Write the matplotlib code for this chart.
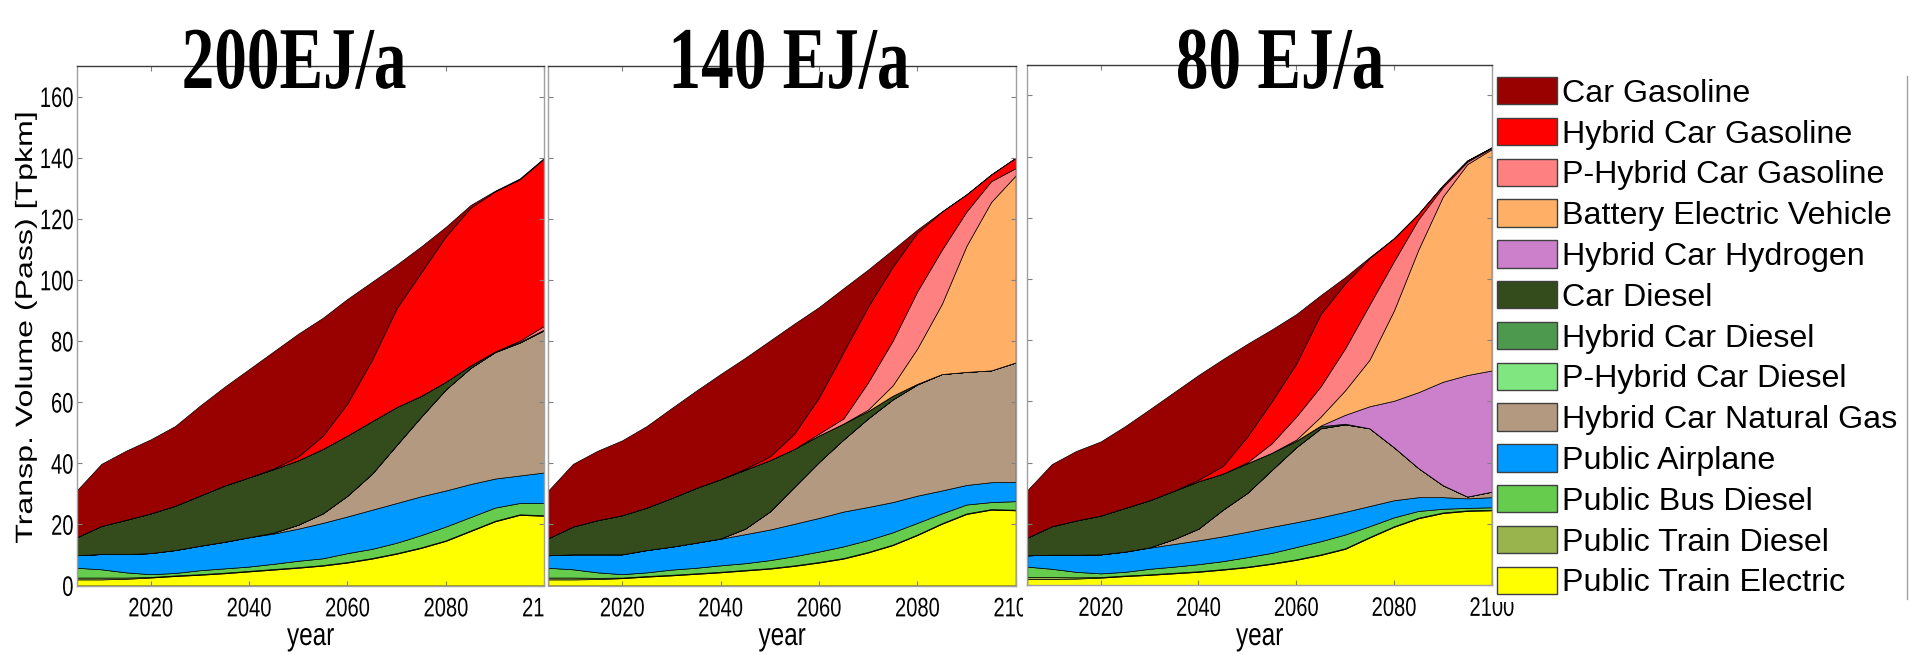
import matplotlib
matplotlib.use("Agg")
import matplotlib.pyplot as plt
from matplotlib.patches import Patch, Rectangle
from matplotlib.lines import Line2D
from matplotlib.patheffects import AbstractPathEffect
from matplotlib.transforms import Affine2D

plt.rcParams['font.family'] = ['Liberation Sans', 'DejaVu Sans']

# ---------------------------------------------------------------- data
years = [2005, 2010, 2015, 2020, 2025, 2030, 2035, 2040, 2045, 2050,
         2055, 2060, 2065, 2070, 2075, 2080, 2085, 2090, 2095, 2100]

scenario_titles = ['200EJ/a', '140 EJ/a', '80 EJ/a']

# legend order (top of the stack first)
series_names = ['Car Gasoline', 'Hybrid Car Gasoline', 'P-Hybrid Car Gasoline',
                'Battery Electric Vehicle', 'Hybrid Car Hydrogen', 'Car Diesel',
                'Hybrid Car Diesel', 'P-Hybrid Car Diesel', 'Hybrid Car Natural Gas',
                'Public Airplane', 'Public Bus Diesel', 'Public Train Diesel',
                'Public Train Electric']
series_colors = ['#990000', '#ff0000', '#ff8080', '#ffb066', '#cc80cc', '#344b1c',
                 '#4d994d', '#80e680', '#b39980', '#0099ff', '#66cc4d', '#99b34d',
                 '#ffff00']

# --- 200 EJ/a  [Tpkm]
car_gasoline_200 = [15.3, 20.3, 22.6, 24.2, 26.1, 29.4, 32.3, 35.4, 38.3, 40.2, 38.6, 34.2, 25.5, 14.3, 8.5, 3.1, 0.9, 0.2, 0.3, 0.2]
hybrid_car_gasoline_200 = [0, 0, 0, 0, 0, 0, 0, 0, 0.2, 1.2, 4.3, 10.5, 20.1, 32.3, 40.4, 47.6, 51.6, 52.4, 52.8, 54.8]
phybrid_car_gasoline_200 = [0, 0, 0, 0, 0, 0, 0, 0, 0, 0, 0, 0, 0, 0, 0, 0, 0, 0, 0.4, 1.2]
battery_ev_200 = [0, 0, 0, 0, 0, 0, 0, 0, 0, 0, 0, 0, 0, 0, 0, 0, 0, 0, 0, 0]
hybrid_car_hydrogen_200 = [0, 0, 0, 0, 0, 0, 0, 0, 0, 0, 0, 0, 0, 0, 0, 0, 0, 0, 0, 0]
car_diesel_200 = [5.9, 9.2, 11.2, 13.0, 14.5, 16.4, 18.4, 19.6, 20.8, 21.1, 21.1, 19.7, 17.2, 12.4, 6.8, 2.5, 0.8, 0.2, 0.2, 0.2]
hybrid_car_diesel_200 = [0, 0, 0, 0, 0, 0, 0, 0, 0, 0, 0, 0, 0, 0, 0, 0, 0, 0, 0, 0]
phybrid_car_diesel_200 = [0, 0, 0, 0, 0, 0, 0, 0, 0, 0, 0, 0, 0, 0, 0, 0, 0, 0, 0, 0]
car_natural_gas_200 = [0, 0, 0, 0, 0, 0, 0, 0, 0.3, 1.3, 3.1, 6.8, 11.8, 19.0, 26.1, 33.1, 38.0, 41.4, 43.5, 46.6]
airplane_200 = [4.1, 5.0, 6.0, 6.9, 7.5, 8.0, 8.7, 9.6, 9.9, 10.5, 11.6, 12.0, 12.8, 13.0, 12.7, 11.8, 10.8, 9.5, 9.0, 10.0]
bus_diesel_200 = [3.2, 2.7, 1.7, 0.9, 0.8, 1.3, 1.4, 1.4, 1.7, 2.1, 2.2, 2.9, 3.0, 3.4, 4.0, 4.5, 4.4, 4.3, 3.7, 4.0]
train_diesel_200 = [0.6, 0.6, 0.4, 0.2, 0.2, 0.2, 0.2, 0.2, 0.2, 0.2, 0.2, 0.2, 0.2, 0.2, 0.2, 0.2, 0.2, 0.2, 0.2, 0.2]
train_electric_200 = [2.0, 2.0, 2.2, 2.6, 3.1, 3.5, 4.0, 4.6, 5.2, 5.8, 6.5, 7.5, 8.8, 10.4, 12.3, 14.6, 17.8, 21.0, 23.1, 22.8]

# --- 140 EJ/a
car_gasoline_140 = [15.6, 20.5, 22.7, 24.5, 26.7, 29.4, 31.8, 34.4, 36.3, 37.9, 36.0, 29.6, 20.9, 12.1, 5.6, 1.0, 0, 0, 0, 0]
hybrid_car_gasoline_140 = [0, 0, 0, 0, 0, 0, 0, 0, 0.3, 1.2, 5.0, 11.8, 21.7, 24.8, 24.2, 19.2, 12.5, 5.6, 2.2, 3.4]
phybrid_car_gasoline_140 = [0, 0, 0, 0, 0, 0, 0, 0, 0, 0, 0, 0.6, 1.7, 8.9, 14.6, 18.7, 17.7, 11.2, 6.8, 2.4]
battery_ev_140 = [0, 0, 0, 0, 0, 0, 0, 0, 0, 0, 0, 0, 0, 0.5, 3.4, 11.6, 23.0, 41.3, 55.1, 61.2]
hybrid_car_hydrogen_140 = [0, 0, 0, 0, 0, 0, 0, 0, 0, 0, 0, 0, 0, 0, 0, 0, 0, 0, 0, 0]
car_diesel_140 = [5.6, 9.1, 11.2, 12.8, 13.9, 15.9, 17.9, 19.4, 19.3, 16.8, 12.4, 8.7, 5.2, 2.4, 1.2, 0.2, 0, 0, 0, 0]
hybrid_car_diesel_140 = [0, 0, 0, 0, 0, 0, 0, 0, 0, 0, 0, 0, 0, 0, 0, 0, 0, 0, 0, 0]
phybrid_car_diesel_140 = [0, 0, 0, 0, 0, 0, 0, 0, 0, 0, 0, 0, 0, 0, 0, 0, 0, 0, 0, 0]
car_natural_gas_140 = [0, 0, 0, 0, 0, 0, 0, 0.1, 1.8, 5.9, 12.1, 18.3, 23.6, 29.0, 33.6, 36.4, 38.1, 37.0, 36.6, 39.1]
airplane_140 = [4.1, 4.9, 5.9, 6.5, 7.3, 7.5, 8.2, 8.7, 9.5, 10.0, 10.6, 11.0, 11.4, 10.8, 9.9, 8.9, 7.5, 6.4, 6.5, 6.3]
bus_diesel_140 = [3.2, 2.7, 1.8, 1.1, 1.2, 1.7, 1.8, 2.1, 2.2, 2.6, 3.0, 3.4, 3.8, 3.9, 4.0, 3.8, 3.2, 2.9, 2.3, 2.8]
train_diesel_140 = [0.6, 0.6, 0.4, 0.2, 0.2, 0.2, 0.2, 0.2, 0.2, 0.2, 0.2, 0.2, 0.2, 0.2, 0.2, 0.2, 0.2, 0.2, 0.2, 0.2]
train_electric_140 = [2.0, 2.0, 2.1, 2.4, 2.9, 3.3, 3.8, 4.3, 4.9, 5.5, 6.4, 7.5, 8.8, 10.8, 13.2, 16.5, 20.2, 23.4, 24.8, 24.6]

# --- 80 EJ/a
car_gasoline_80 = [15.5, 20.3, 22.7, 24.2, 26.7, 29.7, 32.2, 34.2, 34.9, 30.3, 23.5, 16.2, 6.2, 2.1, 0.3, 0, 0, 0, 0, 0]
hybrid_car_gasoline_80 = [0, 0, 0, 0, 0, 0, 0, 0.5, 2.5, 8.4, 13.7, 17.3, 23.6, 21.2, 15.2, 7.5, 1.8, 0.6, 0.4, 0.2]
phybrid_car_gasoline_80 = [0, 0, 0, 0, 0, 0, 0, 0, 0, 0.3, 3.1, 7.5, 9.9, 13.7, 18.0, 16.1, 9.9, 3.1, 0.8, 0.4]
battery_ev_80 = [0, 0, 0, 0, 0, 0, 0, 0, 0, 0, 0, 0.4, 2.9, 8.0, 15.2, 29.5, 46.6, 60.5, 68.9, 72.3]
hybrid_car_hydrogen_80 = [0, 0, 0, 0, 0, 0, 0, 0, 0, 0, 0, 0, 0.2, 2.9, 7.2, 15.2, 24.8, 33.8, 39.7, 39.6]
car_diesel_80 = [5.8, 9.3, 11.2, 12.7, 14.3, 15.4, 15.8, 15.5, 11.8, 9.7, 5.6, 2.1, 0.7, 0.2, 0, 0, 0, 0, 0, 0]
hybrid_car_diesel_80 = [0, 0, 0, 0, 0, 0, 0, 0, 0, 0, 0, 0, 0, 0, 0, 0, 0, 0, 0, 0]
phybrid_car_diesel_80 = [0, 0, 0, 0, 0, 0, 0, 0, 0, 0, 0, 0, 0, 0, 0, 0, 0, 0, 0, 0]
car_natural_gas_80 = [0, 0, 0, 0, 0, 0.1, 1.6, 3.8, 8.7, 12.7, 18.6, 24.5, 29.1, 28.6, 25.4, 17.3, 9.5, 3.9, 0.6, 1.8]
airplane_80 = [3.7, 4.6, 5.6, 6.2, 6.6, 6.9, 7.4, 7.8, 8.1, 8.3, 8.5, 8.1, 7.8, 7.4, 6.6, 5.6, 4.5, 3.8, 3.1, 3.3]
bus_diesel_80 = [3.4, 2.7, 1.8, 1.2, 1.2, 1.8, 2.0, 2.3, 2.6, 3.1, 3.4, 4.0, 4.3, 4.5, 3.5, 2.9, 2.2, 1.2, 0.8, 0.8]
train_diesel_80 = [0.6, 0.6, 0.4, 0.2, 0.2, 0.2, 0.2, 0.2, 0.2, 0.2, 0.2, 0.2, 0.2, 0.2, 0.2, 0.2, 0.2, 0.2, 0.2, 0.2]
train_electric_80 = [2.0, 2.0, 2.1, 2.4, 2.9, 3.3, 3.8, 4.3, 5.0, 5.8, 6.9, 8.2, 9.8, 11.8, 15.5, 19.0, 21.8, 23.5, 24.2, 24.4]

x_ticks = [2020, 2040, 2060, 2080, 2100]
y_ticks = [0, 20, 40, 60, 80, 100, 120, 140, 160]

scenarios = [
    [car_gasoline_200, hybrid_car_gasoline_200, phybrid_car_gasoline_200, battery_ev_200,
     hybrid_car_hydrogen_200, car_diesel_200, hybrid_car_diesel_200, phybrid_car_diesel_200,
     car_natural_gas_200, airplane_200, bus_diesel_200, train_diesel_200, train_electric_200],
    [car_gasoline_140, hybrid_car_gasoline_140, phybrid_car_gasoline_140, battery_ev_140,
     hybrid_car_hydrogen_140, car_diesel_140, hybrid_car_diesel_140, phybrid_car_diesel_140,
     car_natural_gas_140, airplane_140, bus_diesel_140, train_diesel_140, train_electric_140],
    [car_gasoline_80, hybrid_car_gasoline_80, phybrid_car_gasoline_80, battery_ev_80,
     hybrid_car_hydrogen_80, car_diesel_80, hybrid_car_diesel_80, phybrid_car_diesel_80,
     car_natural_gas_80, airplane_80, bus_diesel_80, train_diesel_80, train_electric_80],
]


# ---------------------------------------------------------------- helpers
class Stretch(AbstractPathEffect):
    """Scale text glyphs about a pivot given in glyph units (100 per em)."""

    def __init__(self, sx=1.0, sy=1.0, px=0.0, py=0.0):
        super().__init__()
        self._t = Affine2D().translate(-px, -py).scale(sx, sy).translate(px, py)

    def draw_path(self, renderer, gc, tpath, affine, rgbFace=None):
        renderer.draw_path(gc, tpath, self._t + affine, rgbFace)


W, H = 1914, 655


def fx(px):
    return px / W


def fy(py):
    return 1 - py / H


# ---------------------------------------------------------------- figure
fig = plt.figure(figsize=(W / 100, H / 100), dpi=100)

axes_px = [(76.7, 544.3, 66.0, 585.5),
           (548.3, 1015.7, 66.0, 585.5),
           (1027.3, 1491.7, 64.7, 585.0)]
title_x = [294, 789, 1280]

for i, (layers, (l, r, t, b)) in enumerate(zip(scenarios, axes_px)):
    ax = fig.add_axes([fx(l), fy(b), (r - l) / W, (b - t) / H])
    ax.stackplot(years, *layers[::-1], colors=series_colors[::-1],
                 edgecolor='black', linewidth=0.5)
    ax.set_xlim(2005, 2100)
    ax.set_ylim(0, 170)
    ax.set_xticks(x_ticks)
    ax.set_yticks(y_ticks)
    ax.tick_params(direction='in', length=3.6, width=0.8, color='#808080',
                   top=True, right=True, labelsize=14.5)
    ax.tick_params(axis='x', pad=8.0)
    ax.tick_params(axis='y', pad=2.4, labelleft=(i == 0))
    for name, sp in ax.spines.items():
        sp.set_linewidth(1.0)
        sp.set_color('#3a3a3a' if name == 'top' else '#a0a0a0')
    for lab in ax.get_xticklabels():
        lab.set_path_effects([Stretch(sy=1.33, py=71.6)])
    for lab in ax.get_yticklabels():
        lab.set_path_effects([Stretch(sy=1.4, py=35.8)])

    ax.set_xlabel('year', fontsize=17.5, va='baseline')
    ax.xaxis.set_label_coords(0.5, -(645 - b) / (b - t))
    ax.xaxis.label.set_path_effects([Stretch(sy=1.3)])

    if i == 0:
        ax.set_ylabel('Transp. Volume (Pass) [Tpkm]', fontsize=17,
                      ha='left', va='center', rotation_mode='anchor')
        ax.yaxis.set_label_coords((26 - l) / (r - l), (b - 543.7) / (b - t))
        ax.yaxis.label.set_path_effects([Stretch(sx=1.36)])

    fig.text(fx(title_x[i]), fy(88), scenario_titles[i], ha='center', va='baseline',
             fontsize=47, fontweight='bold', family='Liberation Serif',
             path_effects=[Stretch(sy=1.35)])

# the neighbouring panel hides the overhanging last year label
for x0, x1, y1 in [(545, 600, 628), (1023.3, 1076, 628), (1490, 1912, 601.7)]:
    fig.add_artist(Rectangle((fx(x0), fy(y1)), (x1 - x0) / W, (y1 - 587) / H,
                             transform=fig.transFigure, facecolor='white',
                             edgecolor='none', zorder=1))

handles = [Patch(facecolor=c, edgecolor='#404040', linewidth=1.0) for c in series_colors]
fig.legend(handles, series_names, loc='upper left',
           bbox_to_anchor=(fx(1497), fy(77)), frameon=False, borderpad=0,
           borderaxespad=0, fontsize=23.2, handlelength=1.86, handleheight=0.93,
           handletextpad=0.15, labelspacing=0.28)
fig.add_artist(Line2D([fx(1906.7), fx(1906.7)], [fy(76), fy(599)],
                      color='#a0a0a0', linewidth=1.0))

fig.savefig('out.png', dpi=100)
